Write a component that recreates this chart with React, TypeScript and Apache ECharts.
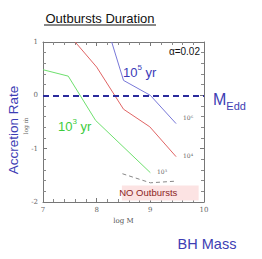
import React, { useEffect, useRef } from "react";
import * as echarts from "echarts";

// Data (log M, log mdot)
const green1e3: [number, number][] = [[7.0, 0.48], [7.47, 0.36], [7.98, -0.47], [9.0, -1.45]];
const red1e4: [number, number][] = [[7.6, 1.0], [8.0, 0.53], [8.5, -0.26], [8.99, -0.59], [9.48, -1.15]];
const blue1e5: [number, number][] = [[8.28, 1.0], [8.5, 0.28], [9.0, 0.0], [9.48, -0.53]];
const grayLimit: [number, number][] = [[8.48, -1.47], [9.0, -1.64], [9.46, -1.61]];
const eddingtonLevel = 0;
const noOutburstBox: [number, number][] = [[8.47, -1.69], [9.9, -1.97]];
const xTicks = { min: 7, max: 10, interval: 1 };
const yTicks = { min: -2, max: 1, interval: 1 };

const BLUE_TEXT = "#3d3db4";

export default function App() {
  const ref = useRef<HTMLDivElement>(null);
  useEffect(() => {
    if (!ref.current) return;
    const chart = echarts.init(ref.current, undefined, { renderer: "svg" });
    const axisCommon = {
      type: "value" as const,
      splitLine: { show: false },
      axisLine: { show: true, onZero: false, lineStyle: { color: "#777", width: 1 } },
      axisTick: { show: true, inside: true, length: 4, lineStyle: { color: "#777" } },
      minorTick: { show: true, splitNumber: 5, length: 3, lineStyle: { color: "#888" } },
    };
    const labelStyle = { fontFamily: "DejaVu Serif", fontSize: 7, color: "#666" };
    chart.setOption({
      animation: false,
      grid: { left: 43, top: 42, right: 58, bottom: 57 },
      xAxis: [
        {
          ...axisCommon,
          ...xTicks,
          position: "bottom",
          axisLabel: { ...labelStyle, margin: 4 },
          name: "log M",
          nameLocation: "middle",
          nameGap: 15,
          nameTextStyle: { fontFamily: "DejaVu Serif", fontSize: 7, color: "#555" },
        },
        { ...axisCommon, ...xTicks, position: "top", axisLabel: { show: false } },
      ],
      yAxis: [
        { ...axisCommon, ...yTicks, position: "left", axisLabel: { ...labelStyle, margin: 5 } },
        { ...axisCommon, ...yTicks, position: "right", axisLabel: { show: false } },
      ],
      series: [
        {
          type: "line",
          data: green1e3,
          symbol: "none",
          lineStyle: { color: "#6ee06e", width: 1 },
          z: 3,
        },
        {
          type: "line",
          data: red1e4,
          symbol: "none",
          lineStyle: { color: "#e06464", width: 1 },
          z: 3,
        },
        {
          type: "line",
          data: blue1e5,
          symbol: "none",
          lineStyle: { color: "#7878d8", width: 1 },
          z: 3,
        },
        {
          type: "line",
          data: grayLimit,
          symbol: "none",
          lineStyle: { color: "#888", width: 1, type: [4, 3] },
          z: 3,
          markArea: {
            silent: true,
            itemStyle: { color: "#fce3e3" },
            label: {
              show: true,
              position: "inside",
              formatter: "NO Outbursts",
              color: "#8b2323",
              fontSize: 9.5,
              fontFamily: "Liberation Sans",
              offset: [-12, 0],
            },
            data: [[{ coord: noOutburstBox[0] }, { coord: noOutburstBox[1] }]],
          },
          markLine: {
            silent: true,
            symbol: "none",
            label: { show: false },
            lineStyle: { color: "#2a2a9c", width: 2, type: [6, 4] },
            data: [{ yAxis: eddingtonLevel }],
          },
        },
      ],
      graphic: [
        {
          type: "text",
          x: 100,
          y: 18,
          style: {
            text: "Outbursts Duration",
            font: '13px "Liberation Sans"',
            fill: "#111",
            align: "center",
            verticalAlign: "middle",
          },
        },
        { type: "line", shape: { x1: 44, y1: 25, x2: 156, y2: 25 }, style: { stroke: "#111", lineWidth: 1 } },
        {
          type: "text",
          x: 13,
          y: 130,
          rotation: Math.PI / 2,
          style: {
            text: "Accretion Rate",
            font: '13.5px "Liberation Sans"',
            fill: BLUE_TEXT,
            align: "center",
            verticalAlign: "middle",
          },
        },
        {
          type: "text",
          x: 25,
          y: 126,
          rotation: Math.PI / 2,
          style: {
            text: "log ṁ",
            font: '6px "DejaVu Serif"',
            fill: "#666",
            align: "center",
            verticalAlign: "middle",
          },
        },
        {
          type: "text",
          x: 213,
          y: 98,
          style: {
            text: "{m|M}{s|Edd}",
            verticalAlign: "middle",
            rich: {
              m: { font: '16px "Liberation Sans"', fill: BLUE_TEXT, verticalAlign: "bottom", lineHeight: 18 },
              s: { font: '11px "Liberation Sans"', fill: BLUE_TEXT, verticalAlign: "bottom", lineHeight: 18, padding: [0, 0, -4, 0] },
            },
          },
        },
        {
          type: "text",
          x: 207,
          y: 244,
          style: {
            text: "BH Mass",
            font: '14.5px "Liberation Sans"',
            fill: BLUE_TEXT,
            align: "center",
            verticalAlign: "middle",
          },
        },
        {
          type: "text",
          x: 123,
          y: 71,
          style: {
            text: "{a|10}{b|5}{a| yr}",
            verticalAlign: "middle",
            rich: {
              a: { font: '13px "Liberation Sans"', fill: "#3a3ab8", verticalAlign: "bottom", lineHeight: 16 },
              b: { font: '8px "Liberation Sans"', fill: "#3a3ab8", verticalAlign: "top", lineHeight: 16 },
            },
          },
        },
        {
          type: "text",
          x: 58,
          y: 125,
          style: {
            text: "{a|10}{b|3}{a| yr}",
            verticalAlign: "middle",
            rich: {
              a: { font: '13px "Liberation Sans"', fill: "#3ccc3c", verticalAlign: "bottom", lineHeight: 16 },
              b: { font: '8px "Liberation Sans"', fill: "#3ccc3c", verticalAlign: "top", lineHeight: 16 },
            },
          },
        },
        {
          type: "text",
          x: 200,
          y: 51,
          style: {
            text: "α=0.02",
            font: '10px "Liberation Sans"',
            fill: "#111",
            align: "right",
            verticalAlign: "middle",
          },
        },
        {
          type: "text",
          x: 183,
          y: 117,
          style: { text: "10⁶", font: '6px "DejaVu Serif"', fill: "#666", verticalAlign: "middle" },
        },
        {
          type: "text",
          x: 183,
          y: 155,
          style: { text: "10⁴", font: '6px "DejaVu Serif"', fill: "#666", verticalAlign: "middle" },
        },
        {
          type: "text",
          x: 157,
          y: 171,
          style: { text: "10³", font: '6px "DejaVu Serif"', fill: "#666", verticalAlign: "middle" },
        },
      ],
    });
    return () => chart.dispose();
  }, []);
  return (
    <div
      ref={ref}
      style={{ position: "absolute", left: 0, top: 0, width: 262, height: 259, background: "#fff" }}
    />
  );
}
